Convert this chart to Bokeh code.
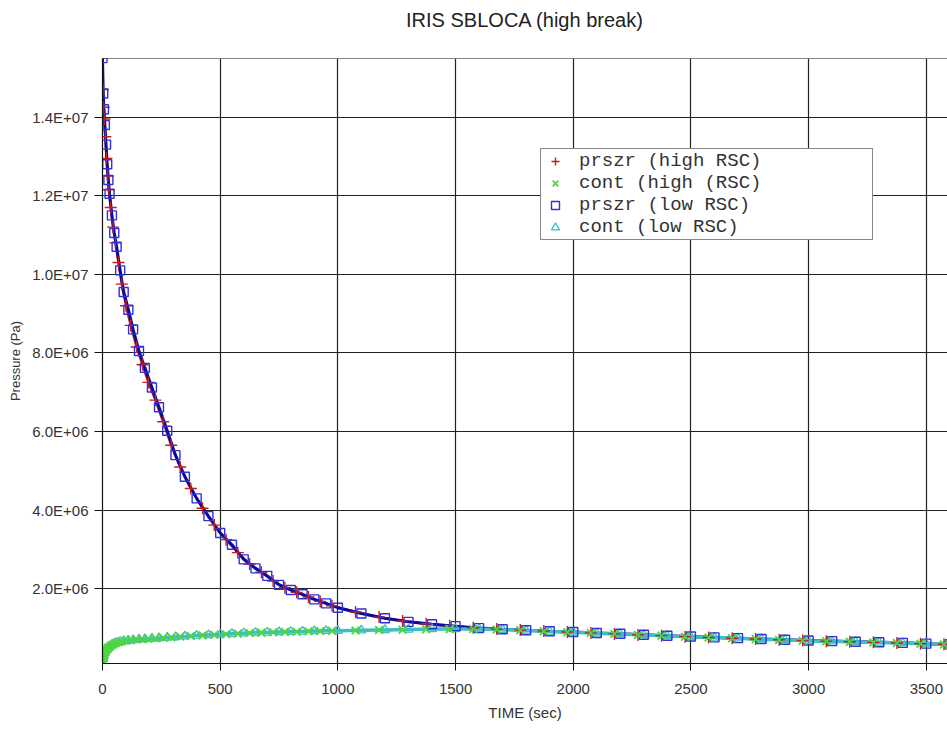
from bokeh.plotting import figure
from bokeh.models import ColumnDataSource, FixedTicker, Legend, LegendItem, Span, Title
from bokeh.embed import file_html
from bokeh.resources import INLINE

# ---- transient data (time in s, pressure in MPa) ----
t_high = [0, 2, 5, 8, 12, 17, 22, 27, 35, 45, 55, 68, 82, 100, 120, 145, 170, 195,
          225, 258, 292, 330, 375, 425, 475, 525, 575, 625, 675, 725, 775, 825, 875,
          925, 975, 1075, 1175, 1275, 1375, 1475, 1575, 1675, 1775, 1875, 1975, 2075,
          2175, 2275, 2375, 2475, 2575, 2675, 2775, 2875, 2975, 3075, 3175, 3275,
          3375, 3475, 3575, 3600]
prszr_high = [15.5, 14.7, 14.25, 13.95, 13.5, 12.95, 12.5, 12.15, 11.7, 11.2, 10.8,
              10.3, 9.75, 9.2, 8.7, 8.15, 7.7, 7.25, 6.8, 6.25, 5.65, 5.1, 4.55, 4.05,
              3.62, 3.25, 2.92, 2.63, 2.42, 2.2, 2.03, 1.91, 1.79, 1.68, 1.57, 1.41,
              1.28, 1.18, 1.11, 1.06, 1.01, 0.975, 0.95, 0.925, 0.9, 0.878, 0.853,
              0.828, 0.808, 0.783, 0.763, 0.743, 0.723, 0.703, 0.683, 0.668, 0.653,
              0.638, 0.623, 0.603, 0.588, 0.583]
cont_high = [0.10, 0.19, 0.28, 0.34, 0.40, 0.45, 0.485, 0.515, 0.55, 0.585, 0.615,
             0.64, 0.66, 0.68, 0.695, 0.71, 0.72, 0.73, 0.74, 0.755, 0.77, 0.785, 0.80,
             0.815, 0.83, 0.845, 0.86, 0.875, 0.885, 0.895, 0.905, 0.91, 0.92, 0.925,
             0.93, 0.94, 0.95, 0.96, 0.97, 0.975, 0.98, 0.965, 0.945, 0.92, 0.895,
             0.875, 0.85, 0.825, 0.805, 0.78, 0.76, 0.74, 0.72, 0.70, 0.68, 0.665,
             0.65, 0.635, 0.62, 0.60, 0.585, 0.58]

t_low = [0, 3, 6, 10, 15, 20, 25, 30, 40, 50, 60, 75, 90, 110, 130, 155, 180, 210,
         240, 275, 310, 350, 400, 450, 500, 550, 600, 650, 700, 750, 800, 850, 900,
         950, 1000, 1100, 1200, 1300, 1400, 1500, 1600, 1700, 1800, 1900, 2000, 2100,
         2200, 2300, 2400, 2500, 2600, 2700, 2800, 2900, 3000, 3100, 3200, 3300, 3400,
         3500, 3600]
prszr_low = [15.5, 14.6, 14.2, 13.8, 13.3, 12.8, 12.4, 12.05, 11.5, 11.05, 10.7, 10.1,
             9.55, 9.1, 8.6, 8.05, 7.62, 7.12, 6.62, 6.02, 5.4, 4.85, 4.3, 3.85, 3.42,
             3.12, 2.75, 2.52, 2.33, 2.1, 1.97, 1.86, 1.73, 1.63, 1.52, 1.37, 1.25,
             1.16, 1.10, 1.05, 1.0, 0.97, 0.945, 0.92, 0.9, 0.875, 0.855, 0.83, 0.805,
             0.785, 0.765, 0.745, 0.725, 0.705, 0.685, 0.67, 0.655, 0.64, 0.625, 0.605,
             0.59]
cont_low = [0.10, 0.22, 0.30, 0.37, 0.43, 0.47, 0.50, 0.53, 0.57, 0.60, 0.625, 0.65,
            0.67, 0.685, 0.70, 0.715, 0.725, 0.735, 0.745, 0.76, 0.775, 0.79, 0.81,
            0.825, 0.84, 0.855, 0.87, 0.88, 0.89, 0.90, 0.91, 0.915, 0.925, 0.93, 0.935,
            0.945, 0.955, 0.965, 0.975, 0.98, 0.98, 0.96, 0.94, 0.915, 0.895, 0.87,
            0.85, 0.825, 0.80, 0.78, 0.76, 0.74, 0.72, 0.70, 0.68, 0.665, 0.65, 0.635,
            0.62, 0.60, 0.585]

x_ticks = [0, 500, 1000, 1500, 2000, 2500, 3000, 3500]
y_ticks = [2e6, 4e6, 6e6, 8e6, 1e7, 1.2e7, 1.4e7]
y_tick_labels = ["2.0E+06", "4.0E+06", "6.0E+06", "8.0E+06", "1.0E+07", "1.2E+07", "1.4E+07"]

chart_title = "IRIS SBLOCA (high break)"
series_names = ["prszr (high RSC)", "cont (high (RSC)", "prszr (low RSC)", "cont (low RSC)"]

MPA = 1e6
src_ph = ColumnDataSource(dict(t=t_high, p=[v * MPA for v in prszr_high]))
src_ch = ColumnDataSource(dict(t=t_high, p=[v * MPA for v in cont_high]))
src_pl = ColumnDataSource(dict(t=t_low, p=[v * MPA for v in prszr_low]))
src_cl = ColumnDataSource(dict(t=t_low, p=[v * MPA for v in cont_low]))

RED = "#c41e1e"
GREEN = "#4fd63a"
NAVY = "#0a0a9c"
BLUE = "#3030dd"
TEAL = "#3fbfbf"

X_END = 3590
Y_START, Y_END = 1.0e5, 1.549e7

p = figure(width=947, height=729, x_range=(0, X_END), y_range=(Y_START, Y_END),
           output_backend="svg", toolbar_location=None,
           min_border_left=102, min_border_right=0, min_border_top=58,
           min_border_bottom=66, background_fill_color="white",
           border_fill_color="white", outline_line_color=None)

# heading in the outer title slot
p.title.text = chart_title
p.title.align = "center"
p.title.text_font = "Liberation Sans"
p.title.text_font_size = "20px"
p.title.text_font_style = "normal"
p.title.text_color = "#222222"
p.title.standoff = 12
# thin spacer between the heading and the frame
p.add_layout(Title(text=" ", text_font_size="1px", standoff=19), "above")

# axes
for ax in (p.xaxis[0], p.yaxis[0]):
    ax.axis_line_color = "#111111"
    ax.axis_line_width = 1.2
    ax.major_tick_line_color = "#111111"
    ax.minor_tick_line_color = None
    ax.major_tick_in = 0
    ax.major_label_text_font = "Liberation Sans"
    ax.major_label_text_font_size = "15px"
    ax.major_label_text_color = "#333333"
    ax.axis_label_text_font = "Liberation Sans"
    ax.axis_label_text_font_style = "normal"
    ax.axis_label_text_color = "#333333"

p.xaxis.ticker = FixedTicker(ticks=x_ticks)
p.xaxis.major_tick_out = 7
p.xaxis.major_label_standoff = 13
p.xaxis.axis_label = "TIME (sec)"
p.xaxis.axis_label_text_font_size = "15px"
p.xaxis.axis_label_standoff = 7

p.yaxis.ticker = FixedTicker(ticks=y_ticks)
p.yaxis.major_label_overrides = {t: s for t, s in zip(y_ticks, y_tick_labels)}
p.yaxis.major_tick_out = 8
p.yaxis.major_label_standoff = 6
p.yaxis.axis_label = "Pressure (Pa)"
p.yaxis.axis_label_text_font_size = "13px"
p.yaxis.axis_label_standoff = 6

p.xgrid.ticker = FixedTicker(ticks=x_ticks)
p.ygrid.ticker = FixedTicker(ticks=y_ticks)
for g in (p.xgrid[0], p.ygrid[0]):
    g.grid_line_color = "#222222"
    g.grid_line_width = 1.2

# top frame edge
p.add_layout(Span(location=Y_END, dimension="width", line_color="#111111", line_width=1.2))

# curves
p.line("t", "p", source=src_ph, line_color=RED, line_width=2.5)
p.line("t", "p", source=src_ch, line_color=GREEN, line_width=2.5)
p.line("t", "p", source=src_pl, line_color=NAVY, line_width=3)
p.line("t", "p", source=src_cl, line_color=TEAL, line_width=3.5)

# point markers
r_cl = p.scatter("t", "p", source=src_cl, marker="triangle", size=9,
                 line_color=TEAL, fill_color=None, line_width=1.3)
r_ph = p.scatter("t", "p", source=src_ph, marker="cross", size=12,
                 line_color=RED, line_width=1.4)
r_pl = p.scatter("t", "p", source=src_pl, marker="square", size=9,
                 line_color=BLUE, fill_color=None, line_width=1.4)
r_ch = p.scatter("t", "p", source=src_ch, marker="x", size=11,
                 line_color=GREEN, line_width=1.8)

legend = Legend(items=[LegendItem(label=series_names[0], renderers=[r_ph]),
                       LegendItem(label=series_names[1], renderers=[r_ch]),
                       LegendItem(label=series_names[2], renderers=[r_pl]),
                       LegendItem(label=series_names[3], renderers=[r_cl])],
                location=(438, 423), orientation="vertical")
legend.label_text_font = "Liberation Mono"
legend.label_text_font_size = "19px"
legend.label_text_color = "#333333"
legend.label_height = 20
legend.glyph_height = 20
legend.glyph_width = 26
legend.label_standoff = 11
legend.label_width = 292
legend.spacing = 0
legend.padding = 1
legend.margin = 0
legend.border_line_color = "#111111"
legend.border_line_width = 1
legend.background_fill_color = "white"
legend.background_fill_alpha = 1.0
p.add_layout(legend, "center")

open("out.html", "w").write(file_html(p, INLINE))
